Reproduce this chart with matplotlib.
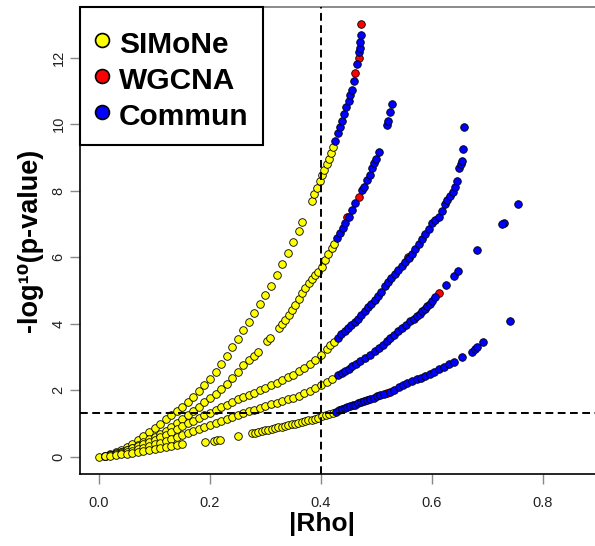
import numpy as np
import matplotlib.pyplot as plt
from matplotlib.lines import Line2D
from matplotlib.patches import Rectangle

plt.rcParams['font.family'] = ['Liberation Sans', 'DejaVu Sans']

# curve A
a_rho = [0.00, 0.01, 0.02, 0.03, 0.04, 0.05, 0.06, 0.07, 0.08, 0.09, 0.10, 0.11, 0.12, 0.13, 0.14,
         0.15, 0.16, 0.17, 0.18, 0.19, 0.20, 0.21, 0.22, 0.23, 0.24, 0.25, 0.26, 0.27, 0.28, 0.29,
         0.30, 0.31, 0.32, 0.33, 0.34, 0.35, 0.36, 0.365, 0.383, 0.388, 0.393, 0.398, 0.402, 0.406,
         0.41, 0.414, 0.418, 0.422, 0.426, 0.43, 0.434, 0.438, 0.442, 0.446, 0.45, 0.453, 0.456,
         0.459, 0.465, 0.469, 0.470, 0.471, 0.472]
a_logp = [0.00, 0.03, 0.08, 0.14, 0.20, 0.28, 0.38, 0.50, 0.62, 0.74, 0.86, 0.98, 1.12, 1.24, 1.36,
          1.50, 1.64, 1.80, 1.98, 2.15, 2.35, 2.55, 2.80, 3.02, 3.30, 3.55, 3.82, 4.06, 4.32, 4.60,
          4.85, 5.13, 5.45, 5.80, 6.12, 6.45, 6.80, 7.05, 7.70, 7.90, 8.07, 8.30, 8.47, 8.62,
          8.80, 8.95, 9.12, 9.30, 9.50, 9.72, 9.90, 10.10, 10.30, 10.50, 10.70, 10.87, 11.03,
          11.30, 11.80, 12.17, 12.30, 12.47, 12.67]

# curve B
b_rho = [0.01, 0.02, 0.03, 0.04, 0.05, 0.06, 0.07, 0.08, 0.09, 0.10, 0.11, 0.12, 0.13, 0.14, 0.15,
         0.16, 0.17, 0.18, 0.19, 0.20, 0.21, 0.22, 0.23, 0.24, 0.25, 0.26, 0.27, 0.28, 0.287,
         0.303, 0.308, 0.324, 0.33, 0.336, 0.342, 0.348, 0.354, 0.36, 0.366, 0.372, 0.378, 0.384,
         0.39, 0.395, 0.401, 0.407, 0.413, 0.419, 0.424, 0.429, 0.434, 0.439, 0.444, 0.45, 0.456,
         0.462, 0.474, 0.478, 0.483, 0.488, 0.492, 0.496, 0.499, 0.504, 0.519, 0.521, 0.525, 0.528]
b_logp = [0.02, 0.05, 0.09, 0.14, 0.20, 0.27, 0.35, 0.43, 0.52, 0.60, 0.69, 0.78, 0.88, 1.00, 1.12,
          1.25, 1.37, 1.50, 1.63, 1.76, 1.90, 2.05, 2.20, 2.38, 2.56, 2.75, 2.90, 3.02, 3.16,
          3.48, 3.56, 3.88, 4.00, 4.12, 4.25, 4.42, 4.57, 4.74, 4.91, 5.06, 5.22, 5.34,
          5.45, 5.56, 5.71, 5.90, 6.10, 6.26, 6.40, 6.57, 6.72, 6.87, 7.02, 7.22, 7.42,
          7.62, 8.02, 8.12, 8.32, 8.47, 8.67, 8.82, 8.95, 9.15, 9.98, 10.08, 10.37, 10.60]

# curve C
c_rho = [0.01, 0.02, 0.03, 0.04, 0.05, 0.06, 0.07, 0.08, 0.09, 0.10, 0.11, 0.12, 0.13, 0.14, 0.15,
         0.16, 0.17, 0.18, 0.19, 0.20, 0.21, 0.22, 0.23, 0.24, 0.25, 0.26, 0.27, 0.28, 0.29, 0.30,
         0.31, 0.32, 0.33, 0.34, 0.35, 0.36, 0.37, 0.38, 0.39, 0.40, 0.41, 0.417, 0.423, 0.43,
         0.437, 0.443, 0.449, 0.455, 0.461, 0.467, 0.473, 0.479, 0.485, 0.491, 0.497, 0.503, 0.509,
         0.515, 0.521, 0.527, 0.533, 0.539, 0.546, 0.552, 0.558, 0.564, 0.57, 0.576, 0.582, 0.588,
         0.594, 0.60, 0.606, 0.612, 0.618, 0.623, 0.628, 0.633, 0.638, 0.642, 0.645, 0.648, 0.652,
         0.654, 0.656, 0.658]
c_logp = [0.02, 0.06, 0.10, 0.15, 0.20, 0.26, 0.32, 0.38, 0.44, 0.50, 0.58, 0.66, 0.74, 0.83, 0.92,
          1.00, 1.08, 1.16, 1.24, 1.32, 1.40, 1.48, 1.56, 1.64, 1.72, 1.79, 1.86, 1.93, 2.00, 2.07,
          2.15, 2.23, 2.31, 2.39, 2.47, 2.57, 2.67, 2.79, 2.92, 3.06, 3.24, 3.36, 3.46, 3.58,
          3.68, 3.78, 3.86, 3.95, 4.05, 4.15, 4.26, 4.38, 4.50, 4.60, 4.70, 4.83, 4.96,
          5.12, 5.25, 5.38, 5.50, 5.60, 5.72, 5.85, 5.97, 6.10, 6.24, 6.40, 6.55, 6.70,
          6.85, 7.02, 7.12, 7.22, 7.40, 7.60, 7.72, 7.85, 7.95, 8.10, 8.30, 8.67, 8.80,
          8.90, 9.25, 9.90]

# curve D
d_rho = [0.01, 0.02, 0.03, 0.04, 0.05, 0.06, 0.07, 0.08, 0.09, 0.10, 0.11, 0.12, 0.13, 0.14, 0.15,
         0.16, 0.17, 0.18, 0.19, 0.20, 0.21, 0.22, 0.23, 0.24, 0.25, 0.26, 0.27, 0.28, 0.29, 0.30,
         0.31, 0.32, 0.33, 0.34, 0.35, 0.36, 0.37, 0.38, 0.39, 0.40, 0.41, 0.42, 0.43, 0.438,
         0.444, 0.45, 0.456, 0.463, 0.471, 0.48, 0.489, 0.497, 0.504, 0.511, 0.519, 0.525, 0.531,
         0.538, 0.546, 0.553, 0.561, 0.567, 0.573, 0.578, 0.582, 0.587, 0.591, 0.596, 0.60, 0.606,
         0.626, 0.639, 0.647]
d_logp = [0.01, 0.04, 0.07, 0.10, 0.14, 0.18, 0.22, 0.27, 0.32, 0.37, 0.42, 0.48, 0.53, 0.59, 0.65,
          0.71, 0.77, 0.83, 0.89, 0.95, 1.01, 1.07, 1.13, 1.19, 1.25, 1.30, 1.36, 1.41, 1.47, 1.52,
          1.57, 1.62, 1.67, 1.72, 1.77, 1.84, 1.91, 1.99, 2.07, 2.16, 2.25, 2.35, 2.45, 2.52,
          2.57, 2.64, 2.72, 2.80, 2.87, 2.97, 3.07, 3.17, 3.27, 3.37, 3.47, 3.57, 3.67,
          3.77, 3.87, 3.97, 4.07, 4.15, 4.22, 4.30, 4.37, 4.45, 4.52, 4.60, 4.68, 4.80,
          5.17, 5.42, 5.57]

# curve E
e_rho = [0.01, 0.02, 0.03, 0.04, 0.05, 0.06, 0.07, 0.08, 0.09, 0.10, 0.11, 0.12, 0.13, 0.14, 0.15,
         0.191, 0.208, 0.213, 0.218, 0.251, 0.276, 0.281, 0.287, 0.293, 0.299, 0.305, 0.311, 0.317,
         0.323, 0.329, 0.335, 0.341, 0.347, 0.353, 0.359, 0.365, 0.371, 0.377, 0.383, 0.389, 0.395,
         0.401, 0.409, 0.415, 0.421, 0.427, 0.433, 0.438, 0.443, 0.447, 0.452, 0.457, 0.462, 0.467,
         0.472, 0.477, 0.483, 0.489, 0.495, 0.501, 0.507, 0.513, 0.525, 0.532, 0.54, 0.548, 0.555,
         0.564, 0.573, 0.58, 0.588, 0.596, 0.603, 0.612, 0.621, 0.63, 0.639, 0.654, 0.672, 0.677,
         0.681, 0.692]
e_logp = [0.01, 0.03, 0.05, 0.07, 0.09, 0.11, 0.13, 0.16, 0.19, 0.22, 0.25, 0.28, 0.31, 0.34, 0.37,
          0.43, 0.48, 0.50, 0.51, 0.62, 0.70, 0.71, 0.73, 0.76, 0.79, 0.81, 0.83, 0.86,
          0.88, 0.90, 0.92, 0.95, 0.97, 0.99, 1.02, 1.05, 1.07, 1.09, 1.10, 1.13, 1.17,
          1.21, 1.25, 1.28, 1.31, 1.35, 1.40, 1.43, 1.46, 1.49, 1.52, 1.54, 1.56, 1.60,
          1.63, 1.66, 1.70, 1.73, 1.76, 1.81, 1.86, 1.88, 1.96, 2.02, 2.11, 2.16, 2.21,
          2.27, 2.33, 2.38, 2.43, 2.50, 2.56, 2.63, 2.71, 2.79, 2.86, 3.01, 3.16, 3.24,
          3.31, 3.46]

# isolated points on the right
out_rho = [0.755, 0.730, 0.727, 0.681, 0.740]
out_logp = [7.60, 7.04, 7.00, 6.20, 4.09]

# WGCNA-only points
red_rho = [0.472, 0.468, 0.462, 0.469, 0.447, 0.556, 0.612, 0.519]
red_logp = [13.00, 12.00, 11.54, 7.82, 7.20, 6.00, 4.93, 1.91]

rho = np.concatenate([a_rho, b_rho, c_rho, d_rho, e_rho, out_rho])
logp = np.concatenate([a_logp, b_logp, c_logp, d_logp, e_logp, out_logp])
common = rho >= 0.425

W, H = 595, 546
fig = plt.figure(figsize=(W/100, H/100), dpi=100)
ax = fig.add_axes([80/W, 72/H, 515/W, 467/H])

pt = dict(s=30, edgecolors='black', linewidths=0.6, zorder=3)
ax.scatter(rho[~common], logp[~common], c='#FFFF00', **pt)
ax.scatter(red_rho, red_logp, c='#FF0000', **pt)
ax.scatter(rho[common], logp[common], c='#0000FF', **pt)

ax.axvline(0.4, color='black', ls=(0, (4, 2.3)), lw=1.4, zorder=4)
ax.axhline(-np.log10(0.05), color='black', ls=(0, (4, 2.3)), lw=1.4, zorder=4)

ax.set_xlim(-0.0344, 0.894)
ax.set_ylim(-0.52, 13.52)
ax.set_xticks([0.0, 0.2, 0.4, 0.6, 0.8])
ax.set_xticklabels(['0.0', '0.2', '0.4', '0.6', '0.8'])
ax.set_yticks([0, 2, 4, 6, 8, 10, 12])
ax.tick_params(colors='#888888', labelcolor='#222222', labelsize=10.5, length=7, width=1)
ax.tick_params(axis='x', pad=9)
for lab in ax.get_yticklabels():
    lab.set_rotation(90)
    lab.set_va('center')
ax.spines['right'].set_visible(False)
for s in ['left', 'bottom', 'top']:
    ax.spines[s].set_linewidth(1.2)
ax.spines['top'].set_color('#777777')

ax.set_xlabel('|Rho|', fontsize=19, fontweight='bold')
ax.xaxis.set_label_coords(0.47, -0.081)
ax.set_ylabel('-log¹⁰(p-value)', fontsize=19.5, fontweight='bold', labelpad=6)

# legend box (drawn separately so its padding can match)
box_w, box_h = 183/515, 138/467
ax.add_patch(Rectangle((0, 1 - box_h), box_w, box_h, transform=ax.transAxes,
                       facecolor='white', edgecolor='black', lw=1.5, zorder=5, clip_on=False))
handles = [Line2D([], [], ls='none', marker='o', markersize=10, markerfacecolor=c,
                  markeredgecolor='black', markeredgewidth=1.2)
           for c in ['#FFFF00', '#FF0000', '#0000FF']]
leg = ax.legend(handles, ['SIMoNe', 'WGCNA', 'Commun'], loc='upper left',
                bbox_to_anchor=(0, 1 - 7/467), borderaxespad=0, frameon=False,
                prop={'weight': 'bold', 'size': 21.5}, handletextpad=0.25, labelspacing=0.12,
                handlelength=0.6, handleheight=1.27, borderpad=0.45)
leg.set_zorder(6)

fig.savefig('out.png', dpi=100)
